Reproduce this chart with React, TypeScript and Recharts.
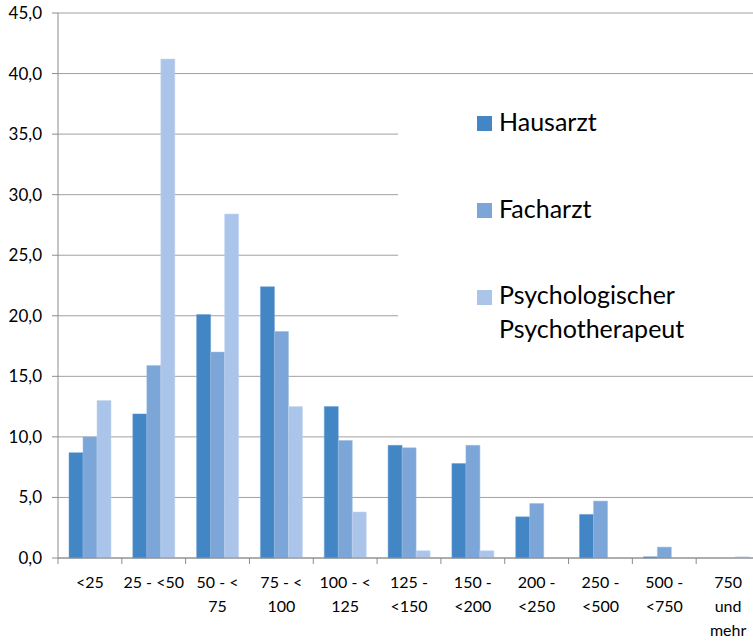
import React from "react";
import { BarChart, Bar, XAxis, YAxis, CartesianGrid } from "recharts";

// Categories (line breaks as shown under the axis)
const categories = [
  "<25",
  "25 - <50",
  "50 - <\n75",
  "75 - <\n100",
  "100 - <\n125",
  "125 -\n<150",
  "150 -\n<200",
  "200 -\n<250",
  "250 -\n<500",
  "500 -\n<750",
  "750\nund\nmehr",
];

const hausarzt = [8.7, 11.9, 20.1, 22.4, 12.5, 9.3, 7.8, 3.4, 3.6, 0.1, 0];
const facharzt = [10.0, 15.9, 17.0, 18.7, 9.7, 9.1, 9.3, 4.5, 4.7, 0.9, 0];
const psychotherapeut = [13.0, 41.2, 28.4, 12.5, 3.8, 0.6, 0.6, 0, 0, 0, 0.1];

const yTicks = [0, 5, 10, 15, 20, 25, 30, 35, 40, 45];

const series = [
  { key: "hausarzt", name: "Hausarzt", color: "#4286c5", edge: "#6a9fd2" },
  { key: "facharzt", name: "Facharzt", color: "#7ba6d7", edge: "#9bbce2" },
  { key: "psycho", name: "Psychologischer Psychotherapeut", color: "#abc5ea", edge: "#c3d5ef" },
];

const data = categories.map((c, i) => ({
  name: c,
  hausarzt: hausarzt[i],
  facharzt: facharzt[i],
  psycho: psychotherapeut[i],
}));

const FONT = "Lato, 'Open Sans', sans-serif";
const CHART_W = 761;
const CHART_H = 642;
const X_AXIS_H = 84;
const Y_AXIS_W = 58;
const PLOT_BOTTOM = CHART_H - X_AXIS_H;
const BAND = (CHART_W - 1 - Y_AXIS_W) / categories.length;

function XTick(props: any) {
  const { x, payload } = props;
  const lines = String(payload.value).split("\n");
  return (
    <g>
      <line x1={x - BAND / 2} x2={x - BAND / 2} y1={PLOT_BOTTOM} y2={PLOT_BOTTOM + 6} stroke="#8c8c8c" />
      {lines.map((l, i) => (
        <text
          key={i}
          x={x}
          y={PLOT_BOTTOM + 30 + i * 24}
          textAnchor="middle"
          fontSize={16}
          fontFamily={FONT}
          fill="#000"
        >
          {l}
        </text>
      ))}
    </g>
  );
}

// Legend drawn as an overlay box (white, hides the grid lines behind it)
function LegendBox() {
  const squareTops = [21, 108, 195];
  const baselines = [36, 123, 209];
  return (
    <svg
      width={355}
      height={260}
      style={{ position: "absolute", left: 398, top: 95, display: "block", background: "#fff" }}
    >
      {series.map((s, i) => {
        const words = s.name.split(" ");
        return (
          <g key={s.key}>
            <rect x={79} y={squareTops[i]} width={15} height={15} fill={s.color} />
            {words.map((w, j) => (
              <text key={j} x={101} y={baselines[i] + j * 34} fontSize={25} fontFamily={FONT} fill="#000">
                {w}
              </text>
            ))}
          </g>
        );
      })}
    </svg>
  );
}

export default function App() {
  return (
    <div style={{ position: "absolute", left: 0, top: 0, width: 753, height: 642, overflow: "hidden", background: "#fff" }}>
      <BarChart
        width={CHART_W}
        height={CHART_H}
        data={data}
        margin={{ top: 13, right: 1, bottom: 0, left: 0 }}
        barSize={14}
        barGap={0}
      >
        <CartesianGrid vertical={false} stroke="#a0a0a0" />
        <XAxis
          dataKey="name"
          height={X_AXIS_H}
          interval={0}
          tickLine={false}
          stroke="#8c8c8c"
          tick={<XTick />}
        />
        <YAxis
          width={Y_AXIS_W}
          domain={[0, 45]}
          ticks={yTicks}
          interval={0}
          stroke="#8c8c8c"
          tickSize={6}
          tickMargin={10}
          tick={{ fontSize: 17, fontFamily: FONT, fill: "#000" }}
          tickFormatter={(v: number) => v.toFixed(1).replace(".", ",")}
        />
        {series.map((s) => (
          <Bar
            key={s.key}
            dataKey={s.key}
            name={s.name}
            fill={s.color}
            stroke={s.edge}
            strokeWidth={0.5}
            isAnimationActive={false}
          />
        ))}
      </BarChart>
      <LegendBox />
    </div>
  );
}
